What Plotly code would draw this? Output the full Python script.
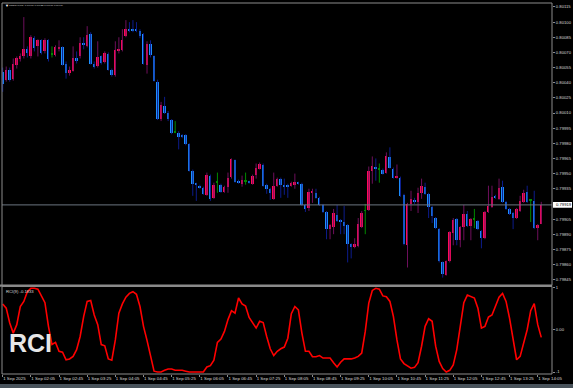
import pandas as pd
import plotly.graph_objects as go

# ---------------- data ----------------
start_time = "2025-09-01 01:25"
n_bars = 154
times = pd.date_range(start_time, periods=n_bars, freq="5min")

open_ = [0.80051,0.80043,0.80053,0.80044,0.80058,0.80063,0.80066,0.80073,0.80066,0.80084,
         0.80076,0.80082,0.80071,0.80082,0.80068,0.80067,0.80073,0.80075,0.80059,0.80050,
         0.80052,0.80064,0.80066,0.80079,0.80076,0.80088,0.80059,0.80057,0.80066,0.80061,
         0.80068,0.80053,0.80048,0.80071,0.80072,0.80086,0.80093,0.80093,0.80093,0.80091,
         0.80088,0.80058,0.80078,0.80066,0.80041,0.80004,0.80017,0.80010,0.80003,0.79991,
         0.79990,0.79988,0.79988,0.79979,0.79953,0.79940,0.79938,0.79936,0.79929,0.79948,
         0.79926,0.79941,0.79939,0.79932,0.79937,0.79947,0.79963,0.79943,0.79940,0.79942,
         0.79942,0.79940,0.79949,0.79955,0.79959,0.79939,0.79935,0.79925,0.79938,0.79945,
         0.79938,0.79939,0.79938,0.79939,0.79941,0.79940,0.79919,0.79916,0.79931,0.79931,
         0.79926,0.79919,0.79912,0.79895,0.79897,0.79909,0.79904,0.79902,0.79899,0.79880,
         0.79877,0.79878,0.79897,0.79913,0.79914,0.79953,0.79957,0.79954,0.79954,0.79951,
         0.79966,0.79955,0.79946,0.79946,0.79929,0.79879,0.79920,0.79924,0.79922,0.79931,
         0.79937,0.79930,0.79917,0.79906,0.79895,0.79862,0.79850,0.79863,0.79891,0.79905,
         0.79884,0.79897,0.79910,0.79898,0.79905,0.79903,0.79893,0.79886,0.79912,0.79917,
         0.79928,0.79925,0.79937,0.79922,0.79915,0.79911,0.79906,0.79913,0.79922,0.79932,
         0.79923,0.79923,0.79896,0.79900]
high_ = [0.80055,0.80056,0.80055,0.80064,0.80066,0.80069,0.80105,0.80076,0.80087,0.80086,
         0.80083,0.80083,0.80084,0.80083,0.80076,0.80077,0.80082,0.80076,0.80061,0.80056,
         0.80076,0.80071,0.80085,0.80085,0.80096,0.80090,0.80061,0.80081,0.80067,0.80071,
         0.80070,0.80054,0.80081,0.80085,0.80093,0.80102,0.80100,0.80102,0.80100,0.80093,
         0.80089,0.80081,0.80082,0.80067,0.80043,0.80021,0.80026,0.80012,0.80004,0.80002,
         0.79992,0.79989,0.79989,0.79980,0.79954,0.79941,0.79939,0.79937,0.79951,0.79949,
         0.79941,0.79951,0.79940,0.79938,0.79951,0.79965,0.79964,0.79944,0.79948,0.79951,
         0.79943,0.79949,0.79960,0.79961,0.79960,0.79940,0.79936,0.79951,0.79946,0.79946,
         0.79945,0.79940,0.79942,0.79950,0.79942,0.79941,0.79920,0.79935,0.79935,0.79935,
         0.79927,0.79920,0.79913,0.79900,0.79915,0.79919,0.79905,0.79918,0.79900,0.79881,
         0.79886,0.79906,0.79913,0.79920,0.79957,0.79967,0.79965,0.79960,0.79955,0.79971,
         0.79976,0.79956,0.79959,0.79947,0.79930,0.79921,0.79933,0.79926,0.79936,0.79945,
         0.79941,0.79931,0.79918,0.79907,0.79896,0.79863,0.79864,0.79893,0.79906,0.79906,
         0.79898,0.79919,0.79913,0.79906,0.79915,0.79904,0.79894,0.79913,0.79938,0.79938,
         0.79929,0.79945,0.79943,0.79923,0.79916,0.79912,0.79916,0.79928,0.79934,0.79938,
         0.79924,0.79933,0.79900,0.79922]
low_ = [0.80031,0.80041,0.80041,0.80042,0.80054,0.80061,0.80064,0.80065,0.80064,0.80071,
        0.80066,0.80068,0.80069,0.80061,0.80065,0.80066,0.80071,0.80057,0.80044,0.80047,
        0.80051,0.80059,0.80064,0.80073,0.80075,0.80058,0.80054,0.80055,0.80058,0.80059,
        0.80052,0.80046,0.80046,0.80069,0.80071,0.80085,0.80090,0.80090,0.80090,0.80084,
        0.80058,0.80049,0.80065,0.80041,0.80003,0.80002,0.80009,0.80002,0.79989,0.79990,
        0.79974,0.79985,0.79978,0.79952,0.79928,0.79923,0.79935,0.79929,0.79928,0.79923,
        0.79925,0.79931,0.79931,0.79931,0.79931,0.79945,0.79941,0.79940,0.79937,0.79939,
        0.79940,0.79939,0.79945,0.79954,0.79937,0.79930,0.79924,0.79924,0.79937,0.79926,
        0.79929,0.79926,0.79937,0.79935,0.79939,0.79918,0.79912,0.79913,0.79921,0.79925,
        0.79918,0.79911,0.79885,0.79885,0.79890,0.79902,0.79890,0.79890,0.79862,0.79866,
        0.79876,0.79877,0.79896,0.79890,0.79913,0.79940,0.79943,0.79941,0.79949,0.79950,
        0.79955,0.79945,0.79945,0.79927,0.79879,0.79857,0.79913,0.79920,0.79911,0.79925,
        0.79929,0.79906,0.79901,0.79895,0.79862,0.79847,0.79849,0.79862,0.79879,0.79879,
        0.79877,0.79884,0.79897,0.79884,0.79896,0.79894,0.79876,0.79885,0.79911,0.79916,
        0.79925,0.79924,0.79921,0.79914,0.79909,0.79895,0.79905,0.79912,0.79921,0.79921,
        0.79902,0.79895,0.79884,0.79900]
close_ = [0.80039,0.80053,0.80043,0.80059,0.80064,0.80066,0.80073,0.80069,0.80085,0.80074,
          0.80082,0.80069,0.80082,0.80063,0.80068,0.80075,0.80075,0.80058,0.80050,0.80053,
          0.80064,0.80062,0.80079,0.80077,0.80087,0.80059,0.80056,0.80065,0.80060,0.80069,
          0.80053,0.80048,0.80072,0.80073,0.80082,0.80093,0.80091,0.80091,0.80091,0.80086,
          0.80059,0.80078,0.80067,0.80042,0.80004,0.80018,0.80010,0.80004,0.79990,0.79991,
          0.79986,0.79986,0.79979,0.79953,0.79940,0.79939,0.79936,0.79930,0.79949,0.79925,
          0.79939,0.79941,0.79932,0.79937,0.79946,0.79964,0.79942,0.79941,0.79944,0.79942,
          0.79941,0.79948,0.79956,0.79960,0.79938,0.79935,0.79931,0.79938,0.79945,0.79939,
          0.79937,0.79937,0.79941,0.79942,0.79940,0.79919,0.79915,0.79932,0.79932,0.79926,
          0.79919,0.79912,0.79895,0.79899,0.79911,0.79903,0.79902,0.79898,0.79880,0.79877,
          0.79880,0.79900,0.79911,0.79913,0.79953,0.79958,0.79955,0.79954,0.79950,0.79967,
          0.79956,0.79946,0.79947,0.79928,0.79880,0.79920,0.79925,0.79922,0.79931,0.79938,
          0.79930,0.79917,0.79908,0.79896,0.79863,0.79851,0.79863,0.79892,0.79904,0.79884,
          0.79897,0.79910,0.79898,0.79905,0.79905,0.79895,0.79886,0.79912,0.79918,0.79927,
          0.79926,0.79936,0.79922,0.79915,0.79910,0.79906,0.79915,0.79923,0.79931,0.79922,
          0.79923,0.79896,0.79899,0.79919]
rci = [0.61,0.51,0.16,-0.08,0.12,0.55,0.67,0.90,0.98,0.98,
       0.96,0.78,0.64,0.08,-0.35,-0.30,-0.51,-0.53,-0.71,-0.69,
       -0.63,-0.47,-0.16,0.31,0.67,0.69,0.35,0.12,-0.35,-0.38,
       -0.69,-0.72,-0.24,0.39,0.61,0.77,0.86,0.90,0.84,0.55,
       0.08,-0.25,-0.64,-0.98,-1.0,-1.0,-0.96,-0.93,-0.93,-0.96,
       -0.96,-0.96,-0.98,-1.0,-1.0,-1.0,-1.0,-1.0,-0.88,-0.85,
       -0.72,-0.30,-0.22,-0.04,0.24,0.45,0.39,0.75,0.61,0.56,
       0.29,0.17,0.04,0.20,0.17,-0.16,-0.45,-0.61,-0.51,-0.45,
       -0.41,-0.20,0.38,0.55,0.47,-0.08,-0.51,-0.51,-0.64,-0.64,
       -0.61,-0.67,-0.67,-0.67,-0.78,-0.88,-0.77,-0.69,-0.69,-0.69,
       -0.67,-0.63,-0.55,-0.04,0.63,0.93,0.98,0.96,0.80,0.78,
       0.67,0.31,-0.24,-0.69,-0.80,-0.86,-0.91,-0.89,-0.78,-0.39,
       0.08,0.26,0.20,-0.39,-0.75,-0.92,-1.0,-0.96,-0.83,-0.47,
       0.12,0.64,0.82,0.78,0.75,0.51,0.04,0.08,0.30,0.35,
       0.55,0.77,0.86,0.67,0.27,-0.24,-0.71,-0.63,-0.31,0.0,
       0.45,0.62,0.12,-0.18]

price_ticks = [0.80115,0.80100,0.80085,0.80070,0.80055,0.80040,0.80025,0.80010,0.79995,
               0.79980,0.79965,0.79950,0.79935,0.79905,0.79890,0.79875,0.79860,0.79845]
time_ticks = ["2025-09-01 01:25","2025-09-01 02:05","2025-09-01 02:45","2025-09-01 03:25",
              "2025-09-01 04:05","2025-09-01 04:45","2025-09-01 05:25","2025-09-01 06:05",
              "2025-09-01 06:45","2025-09-01 07:25","2025-09-01 08:05","2025-09-01 08:45",
              "2025-09-01 09:25","2025-09-01 10:05","2025-09-01 10:45","2025-09-01 11:25",
              "2025-09-01 12:05","2025-09-01 12:45","2025-09-01 13:25","2025-09-01 14:05"]
time_labels = ["1 Sep 2025","1 Sep 02:05","1 Sep 02:45","1 Sep 03:25","1 Sep 04:05",
               "1 Sep 04:45","1 Sep 05:25","1 Sep 06:05","1 Sep 06:45","1 Sep 07:25",
               "1 Sep 08:05","1 Sep 08:45","1 Sep 09:25","1 Sep 10:05","1 Sep 10:45",
               "1 Sep 11:25","1 Sep 12:05","1 Sep 12:45","1 Sep 13:25","1 Sep 14:05"]
bid_price = 0.79919
rci_ticks = [1, 0, -1]
rci_labels = ["1", "0.00", "-1"]
title_text = "USDCHF,M5  0.79900 0.79922 0.79900 0.79919"
rci_title = "RCI(9) -0.1833"

# ---------------- styling ----------------
W, H = 573, 388
L, R, T, B = 2, 21, 1, 14
PW, PH = W - L - R, H - T - B
def px_x(px): return (px - L) / PW
def px_y(py): return (H - B - py) / PH

BULL_BODY, BULL_WICK = "#ff0a5a", "#6e0f5c"
BEAR_BODY, BEAR_WICK = "#1e90ff", "#0c1c8c"
DOJI = "#008a00"
AX = "#8c8c8c"
TXT = "#d8d8d8"
FONT = "Liberation Sans"

main_dom = [px_y(285), 1]
rci_dom = [0, px_y(286)]

fig = go.Figure()
groups = {"bull": ([], BULL_BODY, BULL_WICK), "bear": ([], BEAR_BODY, BEAR_WICK), "doji": ([], DOJI, DOJI)}
for i in range(n_bars):
    if close_[i] > open_[i]:
        groups["bull"][0].append(i)
    elif close_[i] < open_[i]:
        groups["bear"][0].append(i)
    else:
        groups["doji"][0].append(i)

min_h = 0.0000095
for name, (idx, body_c, wick_c) in groups.items():
    wx, wy = [], []
    for i in idx:
        wx += [times[i], times[i], None]
        wy += [low_[i], high_[i], None]
    fig.add_trace(go.Scatter(x=wx, y=wy, mode="lines", line=dict(color=wick_c, width=1),
                             hoverinfo="skip", showlegend=False, xaxis="x", yaxis="y"))
for name, (idx, body_c, wick_c) in groups.items():
    bx = [times[i] for i in idx]
    base = [min(open_[i], close_[i]) for i in idx]
    hgt = [max(abs(close_[i] - open_[i]), min_h) for i in idx]
    fig.add_trace(go.Bar(x=bx, y=hgt, base=base, width=165000, marker=dict(color=body_c, line=dict(width=0)),
                         hoverinfo="skip", showlegend=False, xaxis="x", yaxis="y"))

fig.add_trace(go.Scatter(x=times, y=rci, mode="lines", line=dict(color="#ff0000", width=1.6),
                         hoverinfo="skip", showlegend=False, xaxis="x", yaxis="y2"))

x_left = pd.Timestamp(start_time) - pd.Timedelta(minutes=1)
x_right = x_left + pd.Timedelta(minutes=5 * PW / 3.52)

fig.update_layout(
    width=W, height=H, margin=dict(l=L, r=R, t=T, b=B),
    paper_bgcolor="#000000", plot_bgcolor="#000000",
    barmode="overlay", bargap=0, showlegend=False,
    font=dict(family=FONT, color=TXT),
    xaxis=dict(type="date", range=[x_left, x_right], anchor="y2", domain=[0, 1],
               tickmode="array", tickvals=time_ticks, ticktext=time_labels, tickangle=0,
               ticklabelposition="outside right", ticks="outside", ticklen=2, tickcolor=AX,
               tickfont=dict(size=4.4, color=TXT, family=FONT),
               showgrid=False, zeroline=False, showline=False),
    yaxis=dict(domain=main_dom, range=[0.80115 - 280 * 0.00000985, 0.80115 + 4 * 0.00000985],
               side="right", tickmode="array", tickvals=price_ticks,
               ticktext=[f"{v:.5f}" for v in price_ticks], ticks="outside", ticklen=2, tickcolor=AX,
               tickfont=dict(size=4.2, color=TXT, family=FONT),
               showgrid=False, zeroline=False, showline=False, autorange=False),
    yaxis2=dict(domain=rci_dom, range=[-1.047, 1.0235], side="right", anchor="x",
                tickmode="array", tickvals=rci_ticks, ticktext=rci_labels,
                ticks="outside", ticklen=2, tickcolor=AX,
                tickfont=dict(size=4.2, color=TXT, family=FONT),
                showgrid=False, zeroline=False, showline=False, autorange=False),
)

shapes = []
shapes.append(dict(type="line", xref="paper", yref="y", x0=0, x1=1, y0=bid_price, y1=bid_price,
                   line=dict(color="#6c7680", width=1)))
shapes.append(dict(type="rect", xref="paper", yref="paper", x0=0, x1=1, y0=main_dom[0], y1=1,
                   line=dict(color=AX, width=1)))
shapes.append(dict(type="rect", xref="paper", yref="paper", x0=0, x1=1, y0=0, y1=rci_dom[1],
                   line=dict(color=AX, width=1)))
shapes.append(dict(type="rect", xref="paper", yref="paper", x0=px_x(0), x1=1, y0=px_y(286.2), y1=px_y(284),
                   line=dict(width=0), fillcolor="#8a8a8a"))
shapes.append(dict(type="rect", xref="paper", yref="paper", x0=px_x(0), x1=px_x(W), y0=px_y(388), y1=px_y(384),
                   line=dict(width=0), fillcolor="#48525a"))
shapes.append(dict(type="rect", xref="paper", yref="y", x0=px_x(553), x1=px_x(572),
                   y0=bid_price - 0.000028, y1=bid_price + 0.000028, line=dict(width=0), fillcolor="#ffffff"))
fig.update_layout(shapes=shapes)

ann = []
ann.append(dict(xref="paper", yref="y", x=px_x(554), y=bid_price, text=f"{bid_price:.5f}", showarrow=False,
                xanchor="left", yanchor="middle", font=dict(size=4.2, color="#000000", family=FONT)))
ann.append(dict(xref="paper", yref="paper", x=px_x(2.5), y=px_y(3.5), text="▼", showarrow=False,
                xanchor="left", yanchor="middle", font=dict(size=4, color="#ffffff", family=FONT)))
ann.append(dict(xref="paper", yref="paper", x=px_x(7), y=px_y(4), text=title_text, showarrow=False,
                xanchor="left", yanchor="middle", font=dict(size=2.5, color=TXT, family=FONT)))
ann.append(dict(xref="paper", yref="paper", x=px_x(4), y=px_y(291), text=rci_title, showarrow=False,
                xanchor="left", yanchor="middle", font=dict(size=4.2, color=TXT, family=FONT)))
ann.append(dict(xref="paper", yref="paper", x=px_x(30), y=px_y(343), text="<b>RCI</b>", showarrow=False,
                xanchor="center", yanchor="middle", font=dict(size=25, color="#e6e6e6", family=FONT)))
fig.update_layout(annotations=ann)

fig.write_html("out.html")
